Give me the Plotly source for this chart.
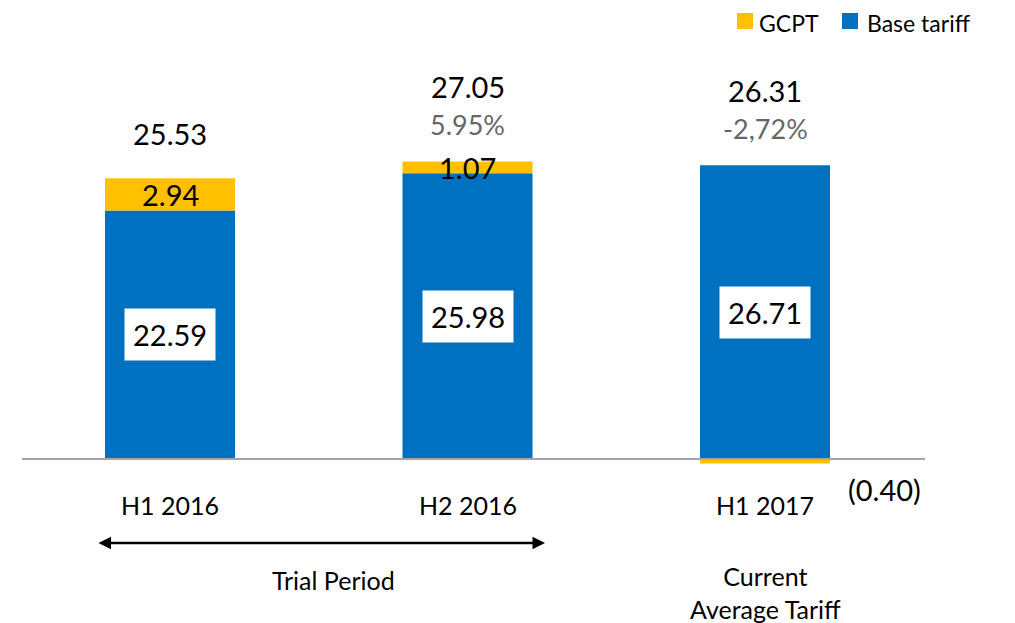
import plotly.graph_objects as go

categories = ["H1 2016", "H2 2016", "H1 2017"]
base_tariff = [22.59, 25.98, 26.71]
gcpt = [2.94, 1.07, -0.40]
totals = [25.53, 27.05, 26.31]
pct_change = ["", "5.95%", "-2,72%"]
gcpt_labels = ["2.94", "1.07", "(0.40)"]
series_names = ["GCPT", "Base tariff"]

BLUE = "#0070C0"
YELLOW = "#FFC000"
FONT = "Lato, 'Open Sans', sans-serif"

OFF = 8                      # page body margin
W, H = 1015 - OFF, 623 - OFF
px_per_unit = 11.0
baseline_px = 459 - OFF
x0_px, step_px = 170 - OFF, 297.5


def dx(px):
    return (px - OFF - x0_px) / step_px


def py(px):
    return (H - (px - OFF)) / H


def pxp(px):
    return (px - OFF) / W


xr = [-x0_px / step_px, (W - x0_px) / step_px]
yr = [-(H - baseline_px) / px_per_unit, baseline_px / px_per_unit]
bar_w = 130 / step_px
xs = list(range(len(categories)))

fig = go.Figure()
fig.add_trace(go.Bar(x=xs, y=base_tariff, name=series_names[1], marker_color=BLUE,
                     width=bar_w, marker_line_width=0, showlegend=False))
fig.add_trace(go.Bar(x=xs, y=gcpt, name=series_names[0], marker_color=YELLOW,
                     width=bar_w, marker_line_width=0, showlegend=False))

NUM = 29
ann = []
for i in xs:
    ann.append(dict(x=i, y=base_tariff[i] / 2, text=f"{base_tariff[i]:.2f}",
                    showarrow=False, bgcolor="white", borderpad=8,
                    font=dict(size=NUM, color="black", family=FONT)))
    ann.append(dict(x=i, y=0, text=categories[i], showarrow=False, yanchor="middle",
                    yshift=-46, font=dict(size=25, color="black", family=FONT)))
    top = max(base_tariff[i], base_tariff[i] + gcpt[i])
    if gcpt[i] > 0:
        ann.append(dict(x=i, y=base_tariff[i] + gcpt[i] / 2, text=gcpt_labels[i],
                        showarrow=False, yanchor="middle",
                        font=dict(size=NUM, color="black", family=FONT)))
    else:
        ann.append(dict(x=i + bar_w / 2, y=0, text=gcpt_labels[i], showarrow=False,
                        xanchor="left", yanchor="middle", xshift=16, yshift=-30,
                        font=dict(size=NUM, color="black", family=FONT)))
    if pct_change[i]:
        ann.append(dict(x=i, y=top, text=pct_change[i], showarrow=False, yanchor="middle",
                        yshift=37, font=dict(size=NUM - 2, color="#666666", family=FONT)))
        ann.append(dict(x=i, y=top, text=f"{totals[i]:.2f}", showarrow=False, yanchor="middle",
                        yshift=75, font=dict(size=NUM, color="black", family=FONT)))
    else:
        ann.append(dict(x=i, y=top, text=f"{totals[i]:.2f}", showarrow=False, yanchor="middle",
                        yshift=45, font=dict(size=NUM, color="black", family=FONT)))

# double arrow for trial period
ann.append(dict(x=dx(545), y=py(543), xref="x", yref="paper", ax=dx(97), ay=0,
                axref="x", ayref="pixel", text="", showarrow=True, arrowhead=2,
                arrowside="end+start", arrowwidth=2.5, arrowsize=1, arrowcolor="black",
                startarrowhead=2, startarrowsize=1))
ann.append(dict(x=dx(333), y=py(580), xref="x", yref="paper", yanchor="middle",
                text="Trial Period", showarrow=False,
                font=dict(size=25, color="black", family=FONT)))
ann.append(dict(x=2, y=py(592), xref="x", yref="paper", yanchor="middle",
                text="Current<br>Average Tariff", showarrow=False,
                font=dict(size=25, color="black", family=FONT)))

shapes = [dict(type="line", xref="x", yref="y", x0=dx(22), x1=dx(925), y0=0, y1=0,
               line=dict(color="#A6A6A6", width=2))]

# legend
legend_items = [(series_names[0], YELLOW, 737, 758), (series_names[1], BLUE, 842, 866)]
for name, col, sx, tx in legend_items:
    shapes.append(dict(type="rect", xref="paper", yref="paper",
                       x0=pxp(sx), x1=pxp(sx + 16), y0=py(29), y1=py(13),
                       fillcolor=col, line=dict(width=0)))
    ann.append(dict(x=pxp(tx), y=py(23), xref="paper", yref="paper", text=name,
                    showarrow=False, xanchor="left", yanchor="middle", borderpad=0,
                    font=dict(size=23, color="black", family=FONT)))

fig.update_layout(
    width=W, height=H,
    barmode="relative",
    margin=dict(l=0, r=0, t=0, b=0),
    paper_bgcolor="white", plot_bgcolor="white",
    xaxis=dict(range=xr, visible=False, fixedrange=True),
    yaxis=dict(range=yr, visible=False, fixedrange=True),
    showlegend=False,
    annotations=ann, shapes=shapes,
    font=dict(family=FONT),
)

fig.write_html("out.html")
